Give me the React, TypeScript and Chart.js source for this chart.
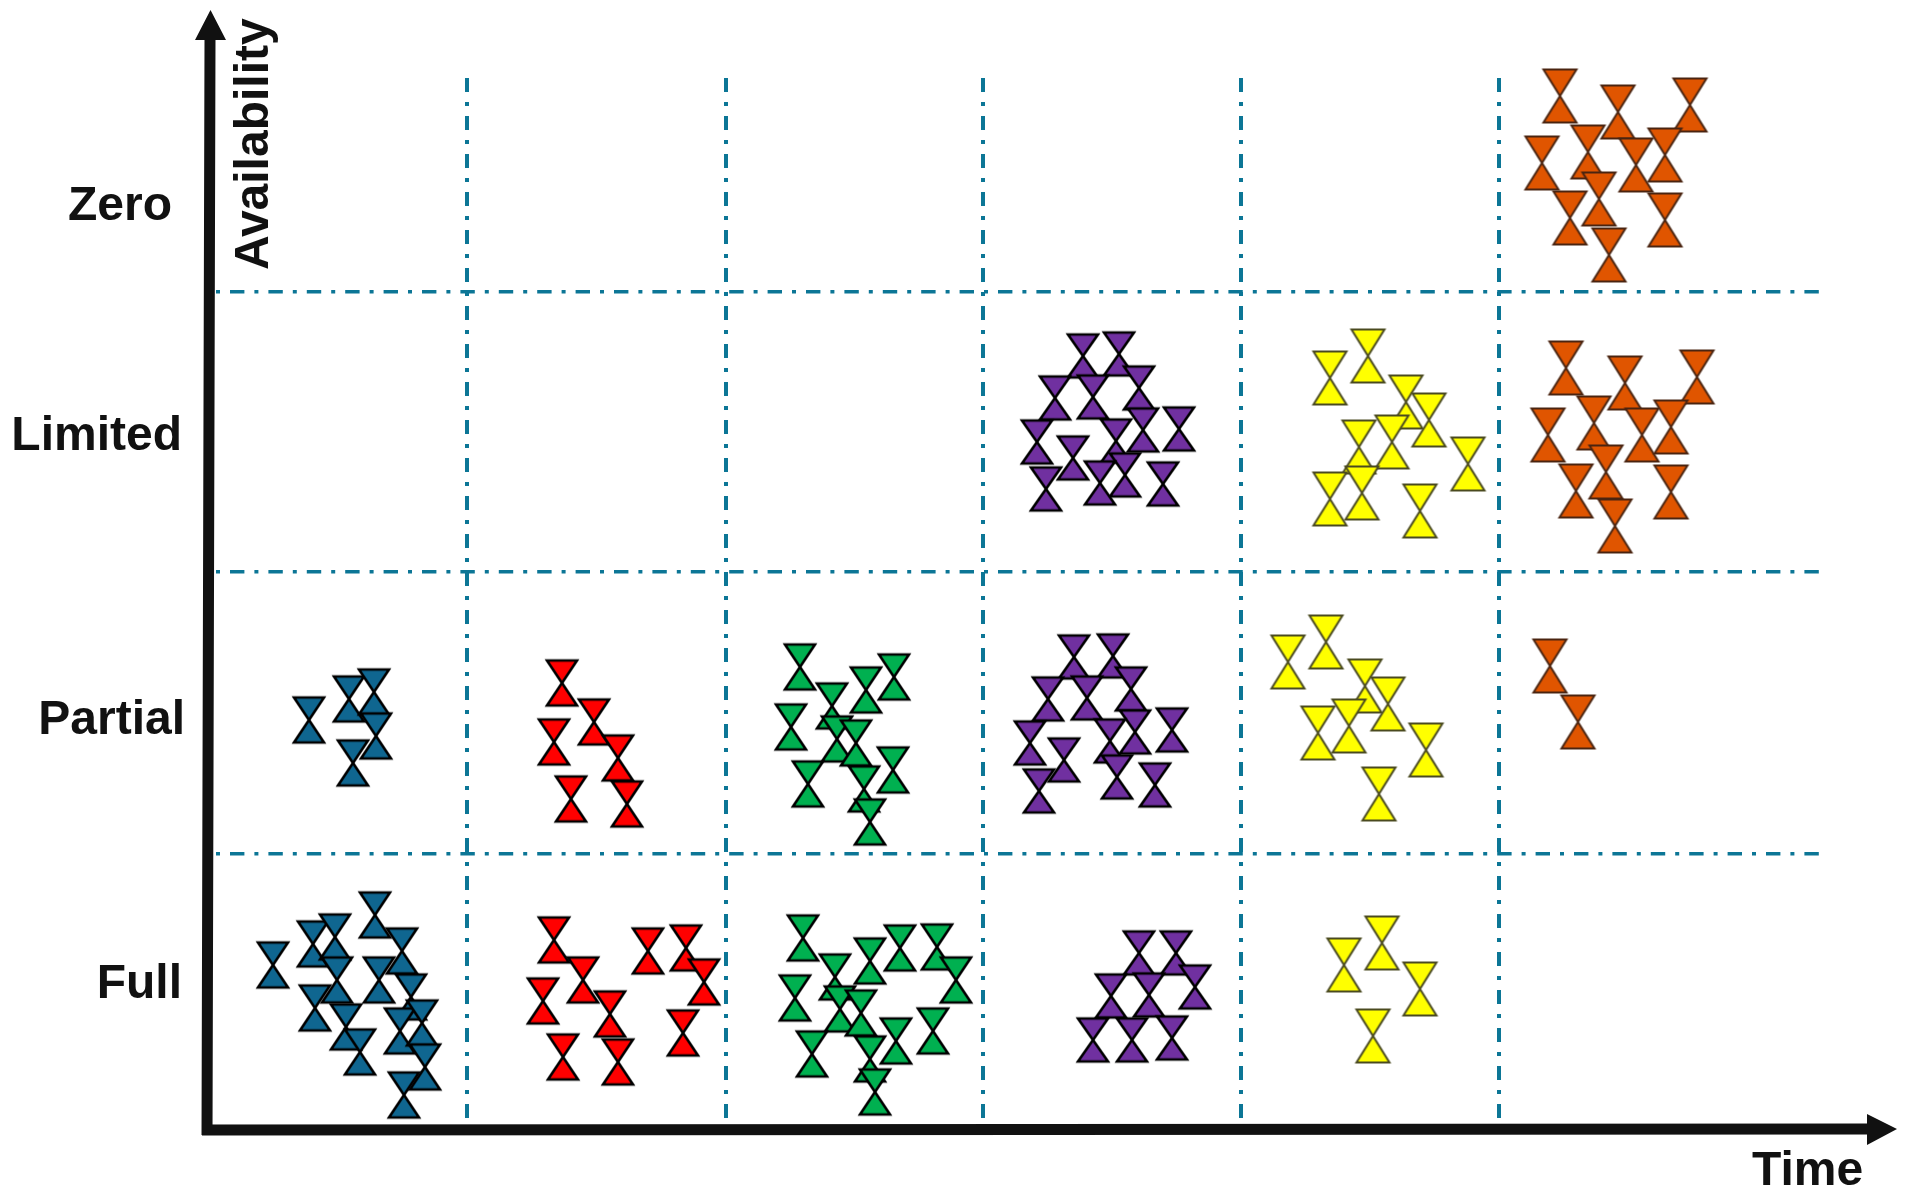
import React, { useEffect, useRef } from "react";
import { Chart, registerables } from "chart.js";

Chart.register(...registerables);

// Availability bands and time columns (axis units)
const availabilityLevels = ["Full", "Partial", "Limited", "Zero"];
const availabilityLabelAt = [145, 409, 693, 923];
const availabilityBounds = [276, 558, 838];
const timeBounds = [258, 517, 774, 1032, 1290];

// Series values: [time, availability]
const blueFull = [[64,165],[104,186],[126,193],[166,215],[193,179],[128,150],[170,150],[106,122],[137,103],[151,78],[202,133],[191,99],[213,107],[216,63],[195,35]];
const bluePartial = [[100,410],[140,431],[165,438],[167,394],[144,367]];
const redFull = [[345,190],[374,150],[401,116],[334,129],[354,73],[409,68],[439,179],[477,182],[495,148],[474,97]];
const redPartial = [[353,447],[385,408],[345,388],[409,372],[362,331],[418,326]];
const greenFull = [[594,192],[691,182],[728,183],[661,169],[747,150],[626,153],[586,132],[631,121],[652,117],[687,89],[724,99],[603,76],[661,71],[666,38]];
const greenPartial = [[591,463],[685,453],[657,440],[623,424],[582,403],[628,391],[647,387],[684,360],[599,346],[655,341],[661,308]];
const purpleFull = [[930,177],[967,177],[986,143],[902,134],[940,135],[884,90],[923,90],[963,92]];
const purplePartial = [[865,473],[904,474],[922,441],[839,431],[878,432],[926,398],[963,400],[821,387],[901,389],[855,370],[908,353],[946,345],[830,339]];
const purpleLimited = [[874,774],[910,776],[930,742],[846,732],[884,733],[934,700],[970,701],[828,688],[907,689],[864,672],[916,655],[891,647],[837,641],[954,646]];
const yellowFull = [[1173,187],[1135,165],[1211,141],[1164,94]];
const yellowPartial = [[1117,488],[1079,468],[1156,444],[1179,426],[1140,404],[1109,397],[1217,380],[1170,336]];
const yellowLimited = [[1159,774],[1121,752],[1197,728],[1220,710],[1183,688],[1150,683],[1259,666],[1153,637],[1121,631],[1211,619]];
const orangePartial = [[1341,464],[1369,408]];
const orangeLimited = [[1357,762],[1416,747],[1488,753],[1385,707],[1339,695],[1433,695],[1462,703],[1397,658],[1367,639],[1462,638],[1406,604]];
const orangeZero = [[1351,1034],[1409,1018],[1481,1025],[1379,978],[1333,967],[1427,965],[1456,975],[1390,931],[1361,912],[1456,910],[1400,875]];

const BLUE = { fill: "#0f6690", stroke: "#000000", line: 2.6, w: 30, h: 45 };
const RED = { fill: "#ff0000", stroke: "#000000", line: 2.6, w: 30, h: 45 };
const GREEN = { fill: "#00b050", stroke: "#000000", line: 2.6, w: 30, h: 45 };
const PURPLE = { fill: "#7030a0", stroke: "#000000", line: 2.6, w: 30, h: 43 };
const YELLOW = { fill: "#ffff00", stroke: "#4a4a20", line: 2, w: 33, h: 53 };
const ORANGE = { fill: "#e05500", stroke: "#4a2410", line: 2, w: 33, h: 53 };

const seriesList = [
  ["Full / period 1", blueFull, BLUE],
  ["Partial / period 1", bluePartial, BLUE],
  ["Full / period 2", redFull, RED],
  ["Partial / period 2", redPartial, RED],
  ["Full / period 3", greenFull, GREEN],
  ["Partial / period 3", greenPartial, GREEN],
  ["Full / period 4", purpleFull, PURPLE],
  ["Partial / period 4", purplePartial, PURPLE],
  ["Limited / period 4", purpleLimited, PURPLE],
  ["Full / period 5", yellowFull, YELLOW],
  ["Partial / period 5", yellowPartial, YELLOW],
  ["Limited / period 5", yellowLimited, YELLOW],
  ["Partial / period 6", orangePartial, ORANGE],
  ["Limited / period 6", orangeLimited, ORANGE],
  ["Zero / period 6", orangeZero, ORANGE],
] as const;

const FONT = "bold 48px 'Liberation Sans', Arial, sans-serif";
const INK = "#111111";
const GRID = "#0c7696";
const DASH_V = [14, 10, 4, 10];
const DASH_H = [14.4, 10, 4, 10];
const labelNudge: Record<string, number> = { Zero: -10, Partial: 3 };

function hourglass(s: { fill: string; stroke: string; line: number; w: number; h: number }) {
  const pad = 3;
  const c = document.createElement("canvas");
  c.width = s.w + pad * 2;
  c.height = s.h + pad * 2;
  const g = c.getContext("2d")!;
  g.translate(pad, pad);
  g.beginPath();
  g.moveTo(0, 0);
  g.lineTo(s.w, 0);
  g.lineTo(s.w / 2, s.h / 2);
  g.lineTo(s.w, s.h);
  g.lineTo(0, s.h);
  g.lineTo(s.w / 2, s.h / 2);
  g.closePath();
  g.fillStyle = s.fill;
  g.fill();
  g.strokeStyle = s.stroke;
  g.lineWidth = s.line;
  g.lineJoin = "miter";
  g.stroke();
  return c;
}

const arrowAxes = {
  id: "arrowAxes",
  beforeDraw(chart: any) {
    // each category label has its own right edge in the picture
    const items = chart.scales.yCat.getLabelItems();
    items.forEach((it: any) => {
      if (labelNudge[it.label] && !it.moved) {
        it.options.translation[0] += labelNudge[it.label];
        it.moved = true;
      }
    });
  },
  beforeDatasetsDraw(chart: any) {
    const { ctx } = chart;
    const ox = chart.scales.x.getPixelForValue(0);
    const oy = chart.scales.y.getPixelForValue(0);
    ctx.save();
    ctx.strokeStyle = INK;
    ctx.fillStyle = INK;
    ctx.lineWidth = 11;
    ctx.lineCap = "butt";
    ctx.beginPath();
    ctx.moveTo(ox - 2, oy + 5);
    ctx.lineTo(ox + 1, oy - 1090);
    ctx.moveTo(ox - 7, oy);
    ctx.lineTo(ox + 1660, oy - 1);
    ctx.stroke();
    ctx.beginPath();
    ctx.moveTo(ox + 1.5, oy - 1120);
    ctx.lineTo(ox + 17, oy - 1090);
    ctx.lineTo(ox - 14, oy - 1090);
    ctx.closePath();
    ctx.moveTo(ox + 1688, oy - 1);
    ctx.lineTo(ox + 1658, oy + 15);
    ctx.lineTo(ox + 1658, oy - 16);
    ctx.closePath();
    ctx.fill();
    ctx.font = FONT;
    ctx.textAlign = "left";
    ctx.textBaseline = "alphabetic";
    ctx.fillText("Time", ox + 1543, oy + 55);
    ctx.translate(ox + 59, oy - 860);
    ctx.rotate(-Math.PI / 2);
    ctx.fillText("Availability", 0, 0);
    ctx.restore();
  },
};

export default function App() {
  const ref = useRef<HTMLCanvasElement>(null);
  useEffect(() => {
    document.body.style.margin = "0";
    const chart = new Chart(ref.current!, {
      type: "scatter",
      plugins: [arrowAxes],
      data: {
        datasets: seriesList.map(([label, pts, style]) => ({
          label,
          data: pts.map(([x, y]) => ({ x, y })),
          pointStyle: hourglass(style),
          pointRadius: style.w / 2,
          pointHoverRadius: style.w / 2,
          clip: false as any,
          showLine: false,
        })),
      },
      options: {
        responsive: false,
        animation: false,
        events: [],
        layout: { padding: { top: 78, right: 89, bottom: 69, left: 0 } },
        plugins: { legend: { display: false }, tooltip: { enabled: false }, title: { display: false } },
        scales: {
          x: {
            type: "linear",
            min: 0,
            max: 1613,
            afterBuildTicks: (s: any) => { s.ticks = timeBounds.map((value) => ({ value })); },
            afterFit: (s: any) => { s.height = 0; },
            ticks: { display: false },
            border: { display: false, dash: DASH_V, dashOffset: 0 },
            grid: { color: GRID, lineWidth: 4, drawTicks: false },
          },
          y: {
            type: "linear",
            min: 0,
            max: 1052,
            afterBuildTicks: (s: any) => { s.ticks = availabilityBounds.map((value) => ({ value })); },
            afterFit: (s: any) => { s.width = 0; },
            ticks: { display: false },
            border: { display: false, dash: DASH_H, dashOffset: 17.4 },
            grid: { color: GRID, lineWidth: 3.5, drawTicks: false },
          },
          yCat: {
            type: "linear",
            position: "left",
            min: 0,
            max: 1052,
            afterBuildTicks: (s: any) => { s.ticks = availabilityLabelAt.map((value) => ({ value })); },
            afterFit: (s: any) => { s.width = 209; },
            border: { display: false },
            grid: { display: false, drawTicks: false },
            ticks: {
              autoSkip: false,
              padding: 27,
              color: INK,
              font: { family: "'Liberation Sans', Arial, sans-serif", size: 48, weight: "bold" },
              callback: (v: any) => availabilityLevels[availabilityLabelAt.indexOf(v)] ?? "",
            },
          },
        },
      } as any,
    } as any);
    return () => chart.destroy();
  }, []);
  return (
    <canvas
      ref={ref}
      width={1911}
      height={1199}
      style={{ position: "absolute", left: 0, top: 0, display: "block", background: "#ffffff", filter: "blur(0.6px)" }}
    />
  );
}
